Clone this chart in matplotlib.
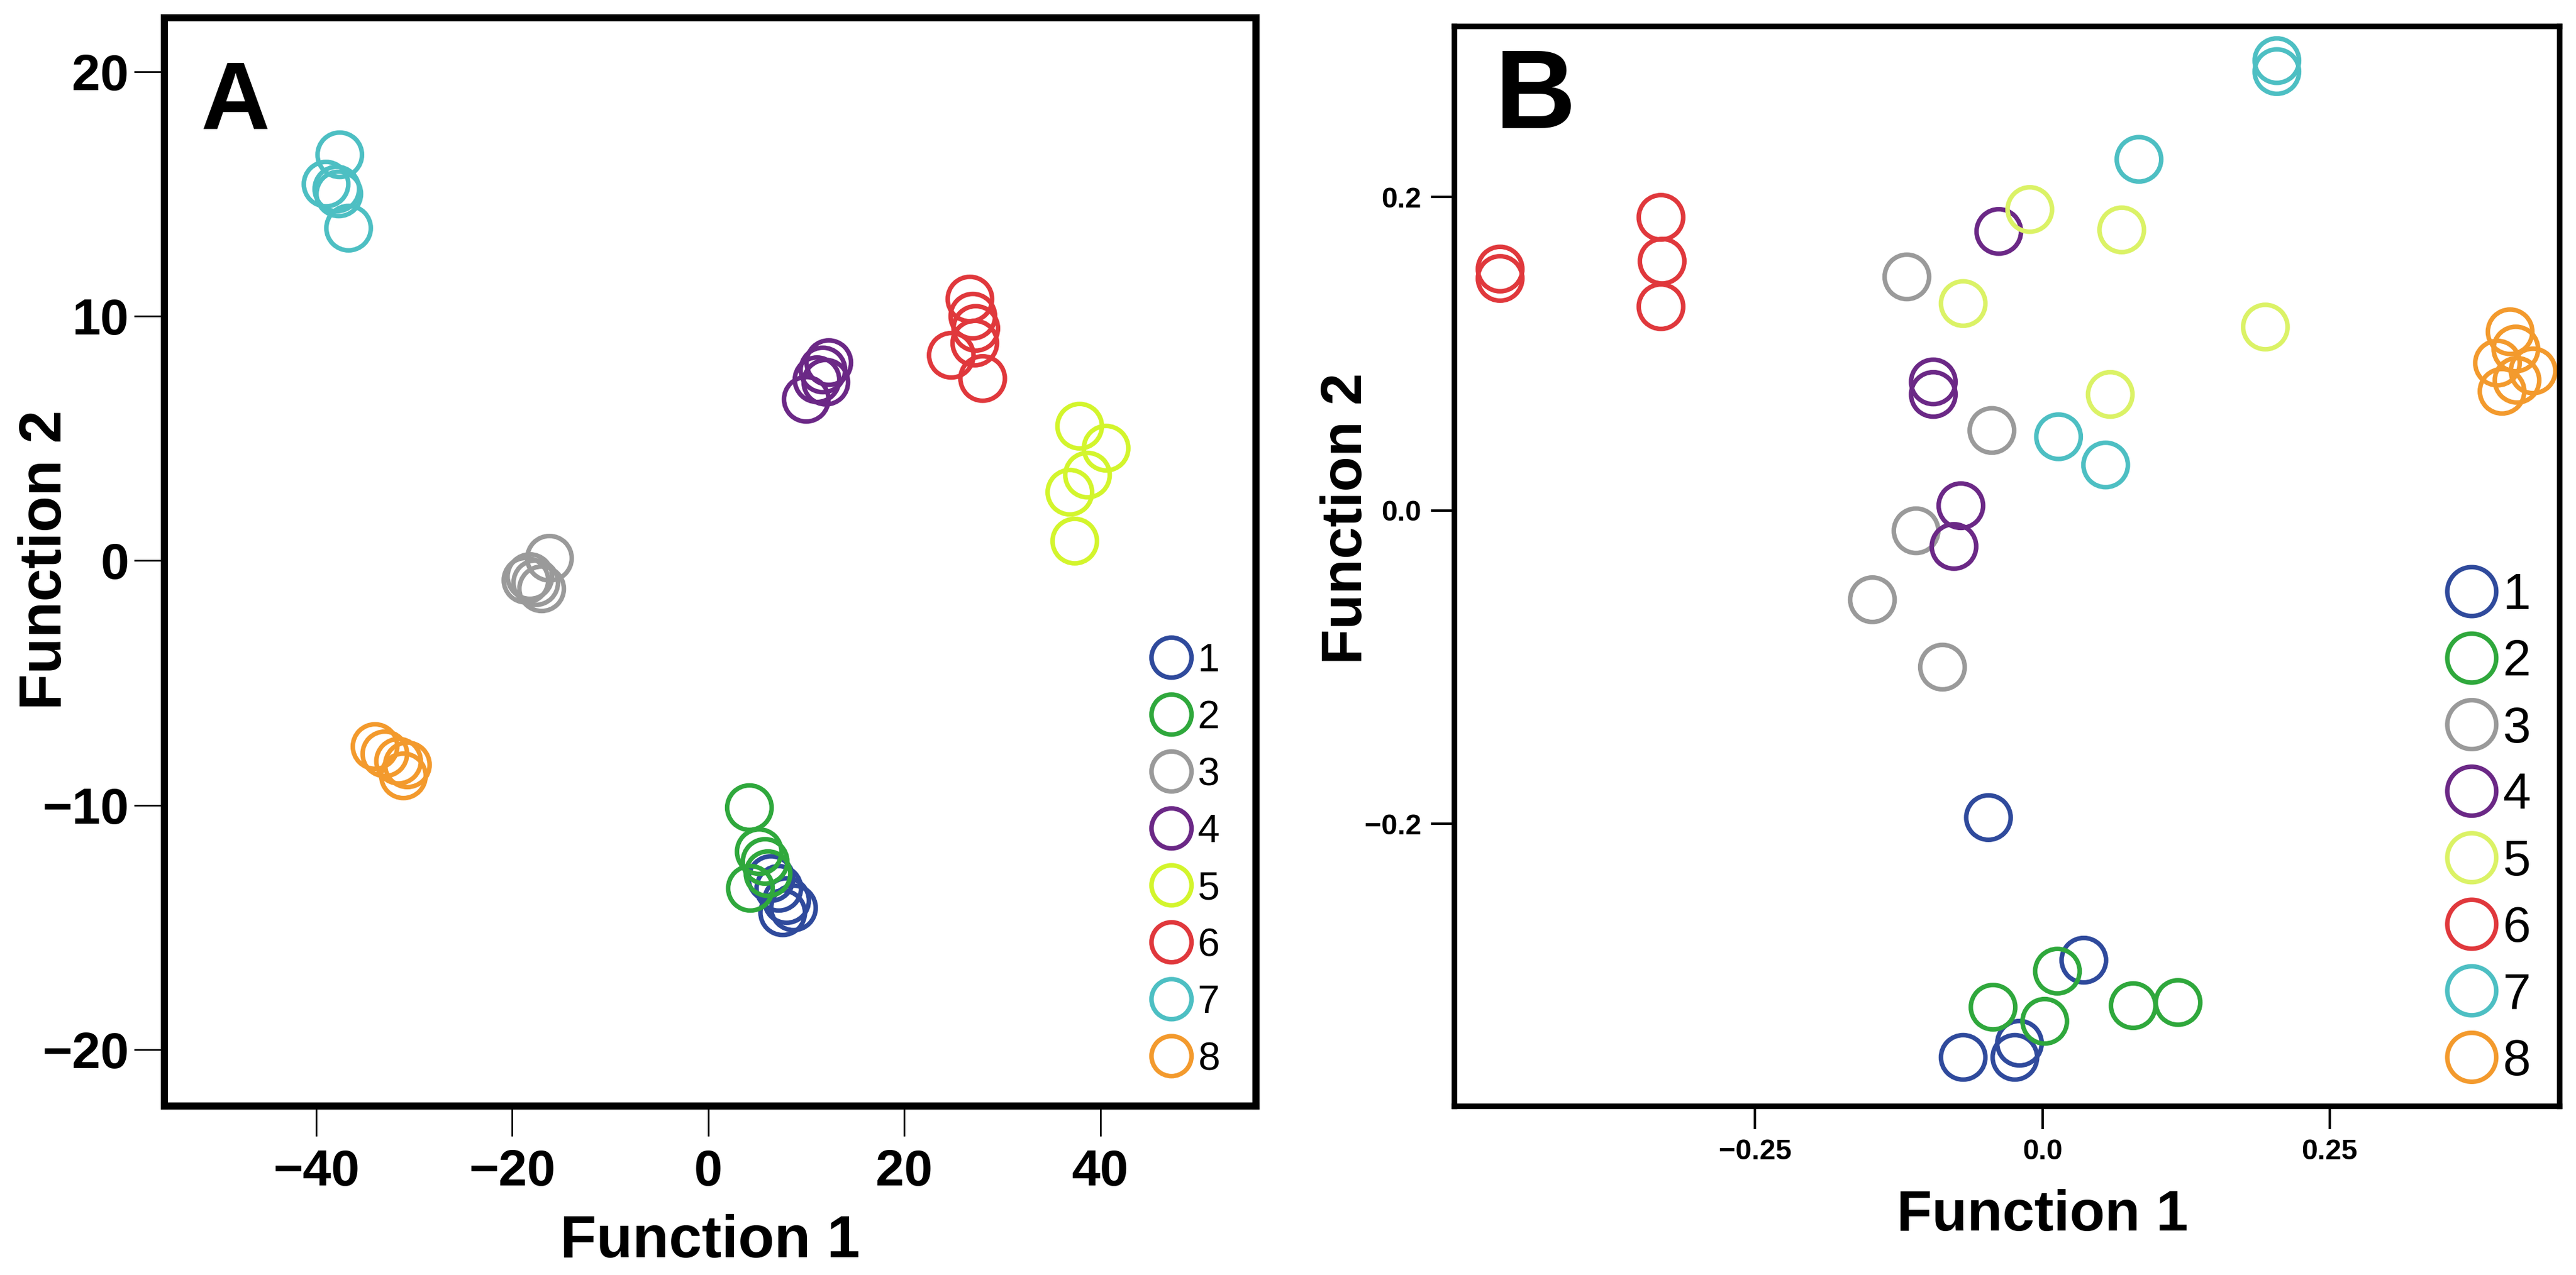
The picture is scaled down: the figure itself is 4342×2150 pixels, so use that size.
import matplotlib
matplotlib.use('Agg')
import matplotlib.pyplot as plt

plt.rcParams['font.family'] = ['Liberation Sans', 'DejaVu Sans']

# group labels and colours (panel B has a paler yellow)
groups = ['1', '2', '3', '4', '5', '6', '7', '8']
colors_a = ['#2f4a9c', '#2fa83c', '#9a9a9a', '#6b2886', '#d3f52c', '#e0383c', '#4dbfc3', '#f39a2d']
colors_b = ['#2f4a9c', '#2fa83c', '#9a9a9a', '#6b2886', '#dbf266', '#e0383c', '#4dbfc3', '#f39a2d']

# Panel A: Function 1 / Function 2 scores per group
a_x = [
    [6.4, 7.2, 8.0, 8.7, 7.6],
    [4.2, 5.2, 5.8, 6.1, 4.3],
    [-16.2, -18.6, -17.6, -17.0, -18.2],
    [12.3, 11.7, 11.1, 12.0, 10.0],
    [37.9, 40.6, 38.7, 36.9, 37.4],
    [26.7, 27.0, 27.3, 27.2, 24.8, 28.0],
    [-37.6, -39.0, -37.9, -37.7, -36.7],
    [-34.0, -33.0, -31.6, -30.7, -31.1],
]
a_y = [
    [-13.0, -13.4, -13.9, -14.2, -14.4],
    [-10.1, -11.9, -12.3, -12.8, -13.4],
    [0.1, -0.8, -0.9, -1.15, -0.65],
    [8.1, 7.8, 7.4, 7.3, 6.6],
    [5.5, 4.6, 3.5, 2.8, 0.8],
    [10.7, 10.0, 9.5, 8.9, 8.4, 7.45],
    [16.6, 15.4, 15.2, 15.0, 13.6],
    [-7.6, -7.9, -8.2, -8.35, -8.8],
]

# Panel B
b_x = [
    [-0.047, 0.036, -0.020, -0.024, -0.069],
    [-0.043, 0.013, 0.002, 0.079, 0.118],
    [-0.118, -0.044, -0.110, -0.148, -0.087],
    [-0.038, -0.095, -0.095, -0.071, -0.077],
    [-0.011, 0.069, -0.069, 0.194, 0.059],
    [-0.472, -0.472, -0.332, -0.331, -0.332],
    [0.204, 0.204, 0.084, 0.014, 0.055],
    [0.407, 0.412, 0.396, 0.427, 0.413, 0.400],
]
b_y = [
    [-0.196, -0.287, -0.340, -0.349, -0.349],
    [-0.317, -0.294, -0.326, -0.316, -0.314],
    [0.149, 0.051, -0.013, -0.057, -0.100],
    [0.178, 0.082, 0.074, 0.003, -0.023],
    [0.192, 0.179, 0.132, 0.117, 0.074],
    [0.154, 0.148, 0.187, 0.159, 0.130],
    [0.287, 0.280, 0.224, 0.047, 0.029],
    [0.114, 0.103, 0.094, 0.089, 0.083, 0.076],
]

a_xticks = [-40, -20, 0, 20, 40]
a_yticks = [-20, -10, 0, 10, 20]
b_xticks = [-0.25, 0.0, 0.25]
b_xlabels = ['\u22120.25', '0.0', '0.25']
b_yticks = [-0.2, 0.0, 0.2]
b_ylabels = ['\u22120.2', '0.0', '0.2']

fig = plt.figure(figsize=(43.42, 21.5), dpi=100)
axA = fig.add_axes([0.0638, 0.1326, 0.4238, 0.8534])
axB = fig.add_axes([0.5645, 0.1326, 0.4291, 0.8469])

for sp in axA.spines.values():
    sp.set_linewidth(8.6)
for sp in axB.spines.values():
    sp.set_linewidth(6.8)

# --- panel A ---
hA = []
for i, g in enumerate(groups):
    h = axA.scatter(a_x[i], a_y[i], s=2916, facecolors='none',
                    edgecolors=colors_a[i], linewidths=5.5, label=g)
    hA.append(h)
axA.set_xlim(-55.5, 55.9)
axA.set_ylim(-22.3, 22.2)
axA.set_xticks(a_xticks)
axA.set_yticks(a_yticks)
axA.tick_params(length=37, width=2, labelsize=62)
axA.tick_params(axis='x', pad=15)
axA.tick_params(axis='y', pad=6)
for lab in axA.get_xticklabels() + axA.get_yticklabels():
    lab.set_fontweight('bold')
axA.set_xlabel('Function 1', fontsize=72, fontweight='bold')
axA.set_ylabel('Function 2', fontsize=72, fontweight='bold')
axA.xaxis.set_label_coords(0.5, -0.099)
axA.yaxis.set_label_coords(-0.083, 0.502)
axA.text(0.0337, 0.962, 'A', transform=axA.transAxes, fontsize=116,
         fontweight='bold', ha='left', va='top')
axA.legend(handles=hA, loc='lower right', bbox_to_anchor=(0.992, 0.0),
           frameon=False, fontsize=48, markerscale=0.9, scatterpoints=1,
           scatteryoffsets=[0.5], handlelength=1.0, handletextpad=0.16,
           labelspacing=0.51, borderaxespad=0.3)

# --- panel B ---
hB = []
for i, g in enumerate(groups):
    h = axB.scatter(b_x[i], b_y[i], s=2916, facecolors='none',
                    edgecolors=colors_b[i], linewidths=5.5, label=g)
    hB.append(h)
axB.set_xlim(-0.512, 0.450)
axB.set_ylim(-0.380, 0.309)
axB.set_xticks(b_xticks)
axB.set_xticklabels(b_xlabels)
axB.set_yticks(b_yticks)
axB.set_yticklabels(b_ylabels)
axB.tick_params(length=28, width=3, labelsize=35)
axB.tick_params(axis='x', pad=12)
axB.tick_params(axis='y', pad=12)
for lab in axB.get_xticklabels() + axB.get_yticklabels():
    lab.set_fontweight('bold')
axB.set_xlabel('Function 1', fontsize=70, fontweight='bold')
axB.set_ylabel('Function 2', fontsize=70, fontweight='bold')
axB.xaxis.set_label_coords(0.532, -0.077)
axB.yaxis.set_label_coords(-0.073, 0.544)
axB.text(0.0365, 0.981, 'B', transform=axB.transAxes, fontsize=136,
         fontweight='bold', ha='left', va='top')
axB.legend(handles=hB, loc='lower right', bbox_to_anchor=(1.006, -0.0137),
           frameon=False, fontsize=61, markerscale=1.1, scatterpoints=1,
           scatteryoffsets=[0.5], handlelength=1.0, handletextpad=0.12,
           labelspacing=0.38, borderaxespad=0.3)

fig.savefig('out.png', dpi=100)
